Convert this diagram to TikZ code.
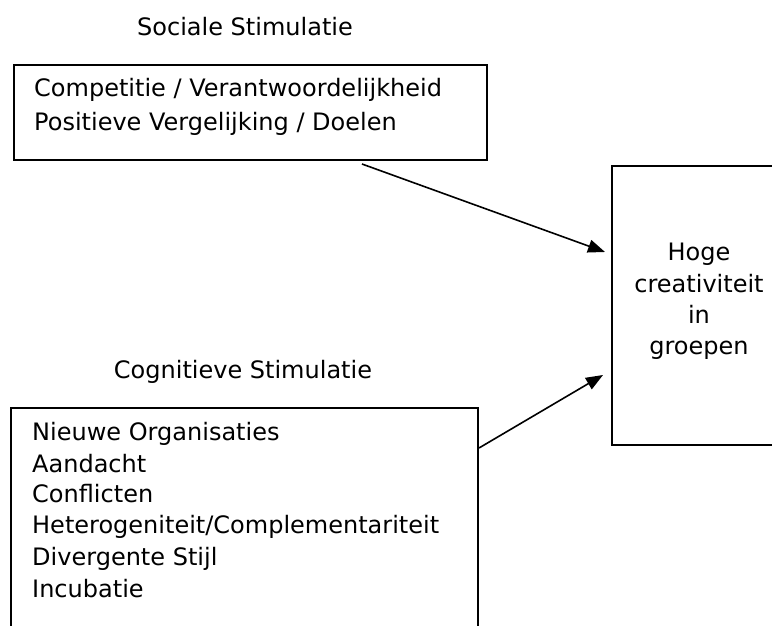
\documentclass[tikz,border=0pt]{standalone}
\usepackage{fontspec}
\setmainfont{DejaVu Sans}
\usetikzlibrary{arrows.meta}

\begin{document}
\begin{tikzpicture}[x=1pt,y=-1pt,
box/.style={draw,line width=1.6pt,rectangle,inner sep=0pt},
txt/.style={font=\fontsize{24}{29}\selectfont,inner sep=0pt},
pijl/.style={line width=1.6pt,-{Triangle[length=17pt,width=13pt]}}]
\useasboundingbox (0,0) rectangle (772,626);
\clip (0,0) rectangle (772,626);
% kaders
\node[box,minimum width=473pt,minimum height=95pt] (soc) at (250.5,112.5) {};
\node[box,minimum width=188pt,minimum height=279pt] (hoog) at (706,305.5) {};
\node[box,minimum width=467pt,minimum height=242pt] (cog) at (244.5,529) {};
% titels
\node[txt,anchor=base] (tsoc) at (245,36) {Sociale Stimulatie};
\node[txt,anchor=base] (tcog) at (243,378) {Cognitieve Stimulatie};
% inhoud
\foreach \y/\l [count=\i] in %
{97/{Competitie / Verantwoordelijkheid},131/{Positieve Vergelijking / Doelen}} {
   \node[txt,anchor=base west] (s\i) at (34,\y) {\l};
}
\foreach \y/\l [count=\i] in %
{440/{Nieuwe Organisaties},472/Aandacht,502/Conflicten,533/{Heterogeniteit/Complementariteit},565/{Divergente Stijl},597/Incubatie} {
   \node[txt,anchor=base west] (c\i) at (32,\y) {\l};
}
\foreach \y/\l [count=\i] in %
{260/Hoge,292/creativiteit,323/in,354/groepen} {
   \node[txt,anchor=base] (h\i) at (699,\y) {\l};
}
% pijlen
\coordinate (p1) at (362,164);
\coordinate (q1) at (605,252);
\coordinate (p2) at (479,448);
\coordinate (q2) at (603,375);
\draw[pijl] (p1) -- (q1);
\draw[pijl] (p2) -- (q2);
\end{tikzpicture}
\end{document}
